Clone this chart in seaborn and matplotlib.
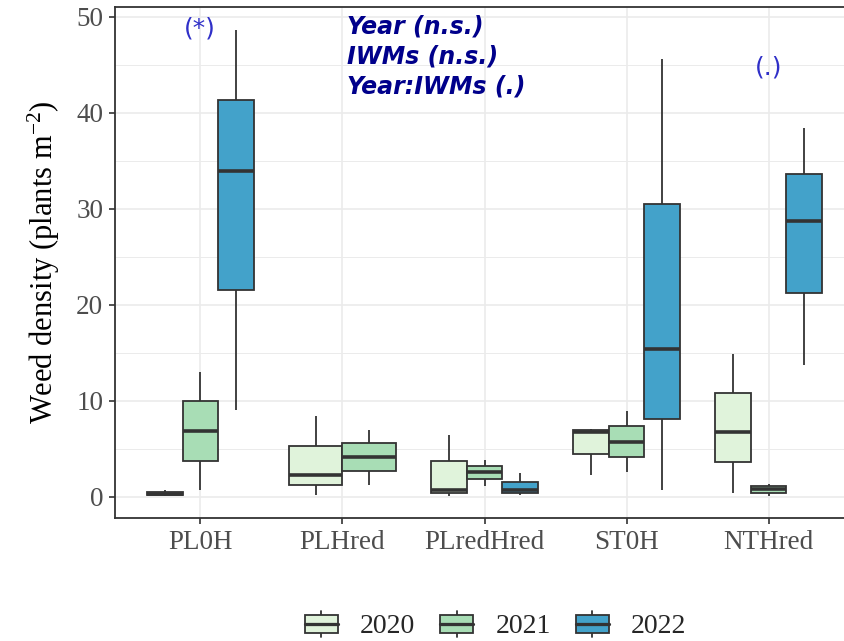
import numpy as np
import pandas as pd
import seaborn as sns
import matplotlib
matplotlib.use("Agg")
import matplotlib.pyplot as plt
from matplotlib.patches import Patch, Rectangle
from matplotlib.lines import Line2D
from matplotlib.legend_handler import HandlerBase

# Weed density per integrated weed management (IWM) strategy and year.
# Each row holds five observations per strategy (plants m-2).
categories = ["PL0H", "PLHred", "PLredHred", "ST0H", "NTHred"]
years = ["2020", "2021", "2022"]

dens_2020 = [
    [0.1, 0.2, 0.3, 0.5, 0.7],
    [0.2, 1.25, 2.3, 5.35, 8.4],
    [0.15, 0.45, 0.75, 3.7, 6.5],
    [2.3, 4.5, 6.8, 7.0, 7.1],
    [0.45, 3.6, 6.8, 10.8, 14.9],
]
dens_2021 = [
    [0.7, 3.75, 6.9, 9.95, 13.05],
    [1.25, 2.7, 4.15, 5.6, 7.0],
    [1.15, 1.9, 2.55, 3.25, 3.9],
    [2.55, 4.15, 5.75, 7.4, 9.0],
    [0.1, 0.4, 0.8, 1.15, 1.4],
]
# no 2022 survey for PLHred
dens_2022 = [
    [9.1, 21.6, 34.0, 41.4, 48.6],
    None,
    [0.2, 0.4, 0.75, 1.6, 2.5],
    [0.75, 8.1, 15.4, 30.5, 45.6],
    [13.7, 21.2, 28.7, 33.6, 38.4],
]

year_colors = ["#e0f3db", "#a8ddb5", "#43a2ca"]
sig_labels = {"PL0H": ("(*)", 48.85), "NTHred": ("(.)", 44.7)}
anova_lines = ["Year (n.s.)", "IWMs (n.s.)", "Year:IWMs (.)"]

rows = []
for yr, series in zip(years, [dens_2020, dens_2021, dens_2022]):
    for cat, vals in zip(categories, series):
        if vals is None:
            continue
        for v in vals:
            rows.append({"IWM": cat, "Year": yr, "density": v})
df = pd.DataFrame(rows)

EDGE = "#333333"
LW = 1.3
SERIF = ["Liberation Serif", "DejaVu Serif"]

sns.set_theme(style="white")
plt.rcParams["font.family"] = SERIF
plt.rcParams["mathtext.default"] = "regular"

fig = plt.figure(figsize=(8.45, 6.41), dpi=100)
ax = fig.add_axes([115 / 845, 1 - 518 / 641, (854 - 115) / 845, (518 - 7) / 641])

palette = dict(zip(years, year_colors))
common = dict(x="IWM", y="density", order=categories, whis=(0, 100),
              width=0.75, gap=0, linecolor=EDGE, linewidth=LW, saturation=1,
              showcaps=False, fliersize=0, dodge=True, legend=False,
              medianprops={"linewidth": LW * 2.0, "color": EDGE},
              boxprops={"edgecolor": EDGE}, ax=ax)

full = df[df["IWM"] != "PLHred"]
part = df[df["IWM"] == "PLHred"]
sns.boxplot(data=full, hue="Year", hue_order=years, palette=palette, **common)
sns.boxplot(data=part, hue="Year", hue_order=years[:2], palette=palette, **common)

ax.set_xlim(-0.6, 4.6)
ax.set_ylim(-2.19, 51.04)
ax.set_yticks([0, 10, 20, 30, 40, 50])
ax.set_yticks([5, 15, 25, 35, 45], minor=True)
ax.set_axisbelow(True)
ax.grid(which="major", color="#ebebeb", linewidth=1.2)
ax.grid(which="minor", axis="y", color="#ebebeb", linewidth=0.7)
for sp in ax.spines.values():
    sp.set_color(EDGE)
    sp.set_linewidth(1.3)
    sp.set_visible(True)
ax.tick_params(axis="both", which="major", length=4.5, width=1.2, color=EDGE,
               labelsize=19.5, labelcolor="#4d4d4d", pad=4, bottom=True, left=True)
ax.tick_params(axis="y", which="minor", length=0, left=False)
ax.set_xlabel("")
ax.set_ylabel("Weed density (plants m$^{-2}$)", fontsize=22, color="black", labelpad=10)

for cat, (txt, yv) in sig_labels.items():
    ax.text(categories.index(cat), yv, txt, ha="center", va="center",
            fontsize=18, color="#3030c8", family=["DejaVu Sans"])

for i, line in enumerate(anova_lines):
    ax.text(1.035, 48.96 - i * 3.125, line, ha="left", va="center", fontsize=17,
            color="#00008b", fontweight="bold", fontstyle="italic",
            family=["DejaVu Sans"])


class BoxKey(HandlerBase):
    def create_artists(self, legend, orig_handle, xdescent, ydescent,
                       width, height, fontsize, trans):
        x0, y0 = -xdescent, -ydescent
        fc = orig_handle.get_facecolor()
        bh = height * 0.68
        by = y0 + (height - bh) / 2
        whisk = Line2D([x0 + width / 2] * 2, [y0, y0 + height], color=EDGE,
                       lw=LW, transform=trans)
        rect = Rectangle((x0, by), width, bh, facecolor=fc, edgecolor=EDGE,
                         lw=LW, transform=trans)
        med = Line2D([x0, x0 + width], [y0 + height / 2] * 2, color=EDGE,
                     lw=LW * 1.8, transform=trans)
        return [whisk, rect, med]


handles = [Patch(facecolor=c, label=y) for y, c in zip(years, year_colors)]
fig.legend(handles=handles, labels=years, handler_map={Patch: BoxKey()},
           loc="center", bbox_to_anchor=(495.5 / 845, 1 - 625 / 641), ncol=3,
           frameon=False, fontsize=20, handlelength=1.19, handleheight=1.08,
           handletextpad=0.8, columnspacing=0.9)

fig.savefig("out.png", dpi=100)
